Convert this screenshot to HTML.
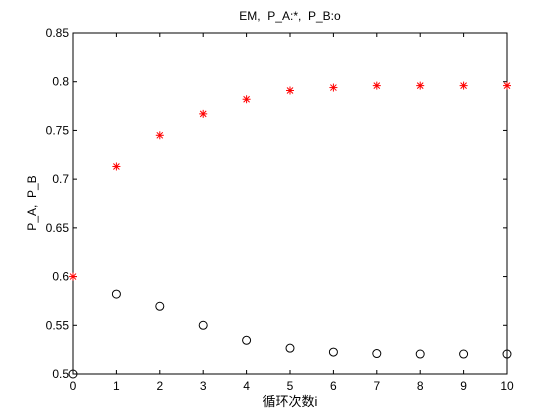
<!DOCTYPE html>
<html><head><meta charset="utf-8"><style>
body{margin:0;background:#fff;}
svg{display:block;font-family:"Liberation Sans","Noto Sans CJK SC",sans-serif;}
text{white-space:pre;}
</style></head><body>
<svg width="560" height="420">
<rect width="560" height="420" fill="#fff"/>
<g id="axes"></g>
<g id="marks"></g>
</svg>
<script>
const categories=[0,1,2,3,4,5,6,7,8,9,10];
const seriesA=[0.6,0.713,0.745,0.767,0.782,0.791,0.794,0.796,0.796,0.796,0.796];
const seriesB=[0.5,0.582,0.5695,0.55,0.5346,0.5265,0.5225,0.521,0.5205,0.5205,0.5205];
const yTicks=[0.5,0.55,0.6,0.65,0.7,0.75,0.8,0.85];
const yTickLabels=["0.5","0.55","0.6","0.65","0.7","0.75","0.8","0.85"];
const xTickLabels=["0","1","2","3","4","5","6","7","8","9","10"];
const L=73,R=507,T=33,B=374;
const sx=v=>L+(v-0)/(10-0)*(R-L);
const sy=v=>B-(v-0.5)/(0.85-0.5)*(B-T);
const NS="http://www.w3.org/2000/svg";
function mk(tag,attrs,parent,text){const e=document.createElementNS(NS,tag);for(const k in attrs)e.setAttribute(k,attrs[k]);if(text!==undefined)e.textContent=text;parent.appendChild(e);return e;}
const ax=document.getElementById('axes');
const frame=mk('rect',{x:L,y:T,width:R-L,height:B-T,fill:'none',stroke:'#000','stroke-width':1},ax);


xTickLabels.forEach((t,i)=>{const x=sx(categories[i]);
mk('line',{x1:x,y1:B,x2:x,y2:B-4,stroke:'#000'},ax);
mk('line',{x1:x,y1:T,x2:x,y2:T+4,stroke:'#000'},ax);
const tx=mk('text',{x:x,y:B+16,'font-size':12,'text-anchor':'middle'},ax,t);

});
yTicks.forEach((v,i)=>{const y=sy(v);
mk('line',{x1:L,y1:y,x2:L+4,y2:y,stroke:'#000'},ax);
mk('line',{x1:R,y1:y,x2:R-4,y2:y,stroke:'#000'},ax);
const tx=mk('text',{x:L-4,y:y+4,'font-size':12,'text-anchor':'end'},ax,yTickLabels[i]);

});
const ti=mk('text',{x:290,y:20,'font-size':12,'text-anchor':'middle'},ax,'EM,  P_A:*,  P_B:o');


const xl=mk('text',{x:290,y:406,'font-size':13,'text-anchor':'middle'},ax,'循环次数i');


const yl=mk('text',{x:0,y:0,'font-size':12,'text-anchor':'middle',transform:'translate(36,203) rotate(-90)'},ax,'P_A,  P_B');


const mg=document.getElementById('marks');
seriesA.forEach((v,i)=>{const x=sx(categories[i]),y=sy(v);
const g=mk('g',{stroke:'#f00','stroke-width':1},mg);


mk('line',{x1:x-4,y1:y,x2:x+4,y2:y},g);
mk('line',{x1:x,y1:y-4,x2:x,y2:y+4},g);
mk('line',{x1:x-3,y1:y-3,x2:x+3,y2:y+3},g);
mk('line',{x1:x-3,y1:y+3,x2:x+3,y2:y-3},g);});
seriesB.forEach((v,i)=>{const c=mk('circle',{cx:sx(categories[i]),cy:sy(v),r:4,fill:'none',stroke:'#000','stroke-width':1},mg);

});
</script>
</body></html>
